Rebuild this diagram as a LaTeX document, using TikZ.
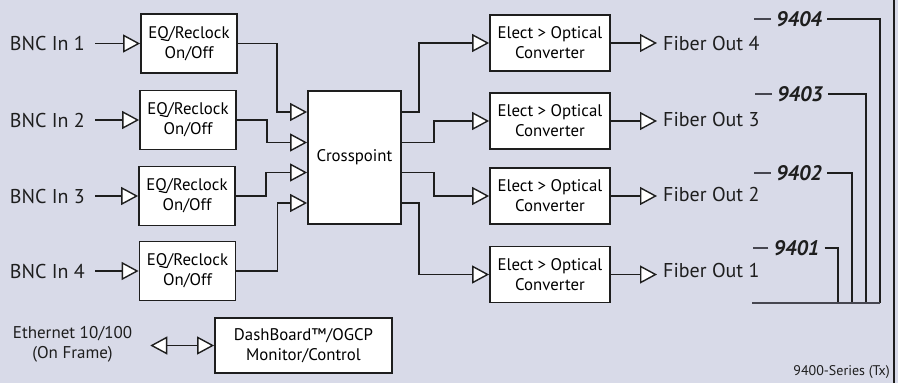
\documentclass[tikz,border=0pt]{standalone}
\usepackage{fontspec}
\setmainfont{PT Sans}
\usetikzlibrary{arrows.meta}
\definecolor{bg}{RGB}{216,218,232}
\definecolor{ln}{RGB}{30,30,30}
\definecolor{ml}{RGB}{70,70,80}
\begin{document}
\begin{tikzpicture}[x=1pt,y=-1pt,
 box/.style={draw=ln,line width=1.8pt,fill=white,align=center,inner sep=0pt,font=\fontsize{16.8}{20}\selectfont},
 lbl/.style={font=\fontsize{20}{22}\selectfont,inner sep=0pt,text=ln},
 small/.style={font=\fontsize{17}{20}\selectfont,inner sep=0pt,align=center,text=ln},
 tip/.tip={Triangle[length=17pt,width=18pt,fill=white,line width=1.4pt]},
 conn/.style={draw=ln,line width=1.4pt,-tip},
 model/.style={font=\fontsize{21}{22}\selectfont\bfseries\itshape,inner sep=0pt,text=ln},
 mline/.style={draw=ml,line width=1.4pt}]
\fill[bg] (0,0) rectangle (898,383);
\useasboundingbox (0,0) rectangle (898,383);
\coordinate (rt) at (894,0);
\coordinate (rb) at (894,383);
\draw[ln,line width=1.5pt] (rt) -- (rb);
% EQ boxes
\node[box,minimum width=96pt,minimum height=59pt] (eq1) at (189,43.5) {EQ/Reclock\\On/Off};
\node[box,minimum width=96pt,minimum height=59pt] (eq2) at (188,120) {EQ/Reclock\\On/Off};
\node[box,minimum width=96pt,minimum height=59pt] (eq3) at (187,196) {EQ/Reclock\\On/Off};
\node[box,minimum width=96pt,minimum height=59pt] (eq4) at (187.5,271) {EQ/Reclock\\On/Off};
% BNC labels
\node[lbl,anchor=east] (b1) at (85,43.5) {BNC In 1};
\node[lbl,anchor=east] (b2) at (85,120) {BNC In 2};
\node[lbl,anchor=east] (b3) at (85,196) {BNC In 3};
\node[lbl,anchor=east] (b4) at (85,271) {BNC In 4};
\draw[conn] ([xshift=10pt]eq1.west -| b1.east) -- (eq1.west);
\draw[conn] ([xshift=10pt]eq2.west -| b2.east) -- (eq2.west);
\draw[conn] ([xshift=10pt]eq3.west -| b3.east) -- (eq3.west);
\draw[conn] ([xshift=10pt]eq4.west -| b4.east) -- (eq4.west);
% Crosspoint
\node[box,minimum width=93pt,minimum height=133pt] (cp) at (354.5,157.5) {Crosspoint};
\draw[conn] (eq1.east) -- ++(39,0) |- ([yshift=45.5pt]cp.west);
\draw[conn] (eq2.east) -- ++(30,0) |- ([yshift=15pt]cp.west);
\draw[conn] (eq3.east) -- ++(30,0) |- ([yshift=-15pt]cp.west);
\draw[conn] (eq4.east) -- ++(41,0) |- ([yshift=-45.5pt]cp.west);
% Converters
\node[box,minimum width=120pt,minimum height=56pt] (cv1) at (550,43) {Elect > Optical\\Converter};
\node[box,minimum width=120pt,minimum height=56pt] (cv2) at (550,121) {Elect > Optical\\Converter};
\node[box,minimum width=120pt,minimum height=56pt] (cv3) at (550,196) {Elect > Optical\\Converter};
\node[box,minimum width=120pt,minimum height=56pt] (cv4) at (550,274.5) {Elect > Optical\\Converter};
\draw[conn] ([yshift=45.5pt]cp.east) -- ++(17,0) |- (cv1.west);
\draw[conn] ([yshift=15pt]cp.east) -- ++(32,0) |- (cv2.west);
\draw[conn] ([yshift=-15pt]cp.east) -- ++(32,0) |- (cv3.west);
\draw[conn] ([yshift=-45.5pt]cp.east) -- ++(17,0) |- (cv4.west);
% Fiber outs
\node[lbl,anchor=west] (f4) at (663,43) {Fiber Out 4};
\node[lbl,anchor=west] (f3) at (663,119) {Fiber Out 3};
\node[lbl,anchor=west] (f2) at (663,194) {Fiber Out 2};
\node[lbl,anchor=west] (f1) at (663,270) {Fiber Out 1};
\draw[conn,shorten >=6pt] (cv1.east) -- (cv1.east -| f4.west);
\draw[conn,shorten >=6pt] (cv2.east) -- (cv2.east -| f3.west);
\draw[conn,shorten >=6pt] (cv3.east) -- (cv3.east -| f2.west);
\draw[conn,shorten >=6pt] (cv4.east) -- (cv4.east -| f1.west);
% model labels
\node[model] (m4) at (799,19) {9404};
\node[model] (m3) at (800,94) {9403};
\node[model] (m2) at (799,173) {9402};
\node[model] (m1) at (796.5,248) {9401};
\coordinate (bl) at (752,303);
\coordinate (br) at (880,303);
\draw[mline] ([xshift=-5pt]m4.west) -- ++(-17,0);
\draw[mline] ([xshift=-5pt]m3.west) -- ++(-17,0);
\draw[mline] ([xshift=-5pt]m2.west) -- ++(-17,0);
\draw[mline] ([xshift=-5pt]m1.west) -- ++(-15,0);
\draw[ln,line width=1.4pt] ([xshift=5pt]m4.east) -| (br);
\draw[ln,line width=1.4pt] ([xshift=5pt]m3.east) -| ([xshift=-14pt]br);
\draw[ln,line width=1.4pt] ([xshift=5pt]m2.east) -| ([xshift=-28pt]br);
\draw[ln,line width=1.4pt] ([xshift=5pt]m1.east) -| ([xshift=-42pt]br);
\draw[mline] (bl) -- (br);
% Ethernet / DashBoard
\node[small] (eth) at (72.5,344) {Ethernet 10/100\\(On Frame)};
\node[box,minimum width=177pt,minimum height=55pt] (db) at (303.5,345.5) {DashBoard™/OGCP\\Monitor/Control};
\draw[conn,tip-tip] ([xshift=18pt]db.west -| eth.east) -- (db.west);
\node[font=\fontsize{14}{16}\selectfont,inner sep=0pt,anchor=east,text=ln] (ser) at (890,372) {9400-Series (Tx)};
\end{tikzpicture}
\end{document}
